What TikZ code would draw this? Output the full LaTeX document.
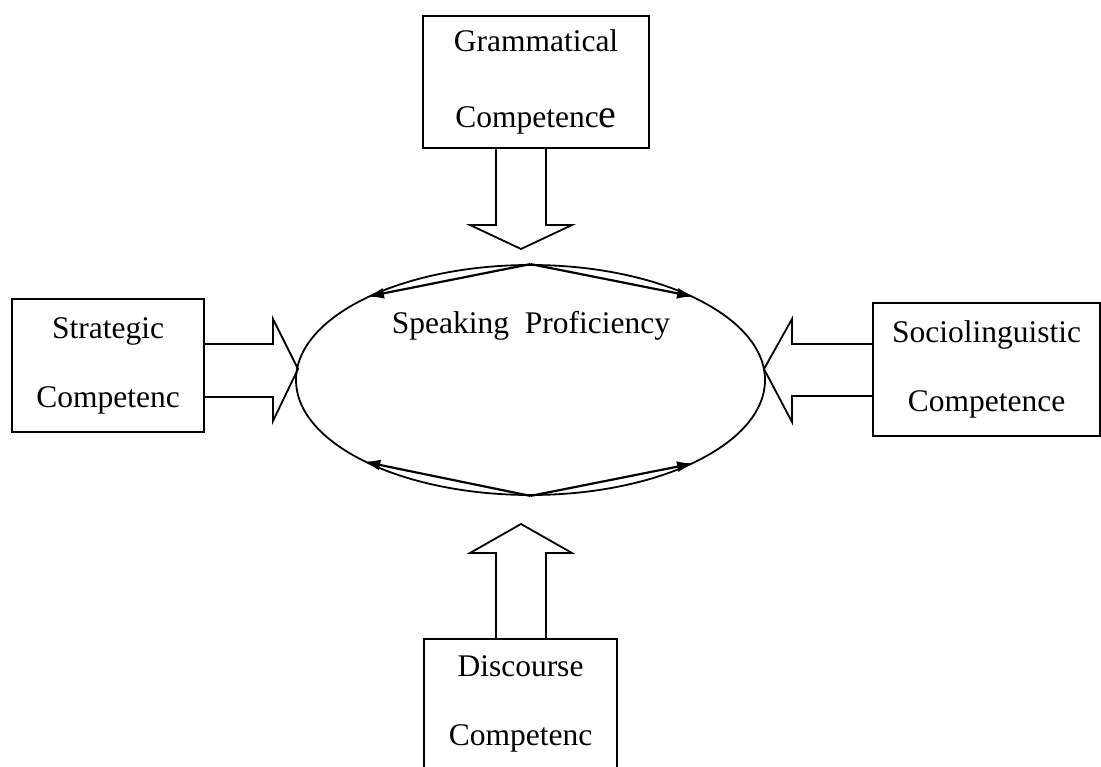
\documentclass[tikz,border=0pt]{standalone}
\usepackage{fontspec}
\setmainfont{Liberation Serif}
\usetikzlibrary{shapes.geometric,arrows.meta}
\begin{document}
\begin{tikzpicture}[x=1pt,y=-1pt,
  box/.style={draw,line width=1.8pt,inner sep=0pt,align=center,font=\fontsize{31.5}{69}\selectfont},
  blk/.style={draw,line width=1.8pt,line join=miter},
  chord/.style={line width=2.2pt,-{Latex[length=17pt,width=11pt]}}]
\useasboundingbox (0,0) rectangle (1101,767);
\clip (0,0) rectangle (1101,767);
% boxes
\node[box,minimum width=226pt,minimum height=132pt,font=\fontsize{31.5}{76}\selectfont] (gram) at (536,82) {Grammatical\\Competenc{\fontsize{40}{40}\selectfont e}};
\node[box,minimum width=192pt,minimum height=133pt] (strat) at (108,365.5) {Strategic\\Competenc};
\node[box,minimum width=227pt,minimum height=133pt] (socio) at (986.5,369.5) {Sociolinguistic\\Competence};
\node[box,minimum width=193pt,minimum height=129pt] (disc) at (520.5,703.5) {Discourse\\Competenc};
% ellipse
\node[draw,ellipse,line width=1.8pt,minimum width=469pt,minimum height=230pt,inner sep=0pt] (sp) at (530.5,380) {};
\node[font=\fontsize{31.5}{38}\selectfont] (spt) at (531,326) {Speaking\ \ Proficiency};
% block arrows
\draw[blk] (496,148) -- (496,225) -- (470,225) -- (521,249) -- (572,225) -- (546,225) -- (546,148);
\draw[blk] (204,344) -- (273,344) -- (273,319) -- (298,369) -- (273,421) -- (273,397) -- (204,397);
\draw[blk] (873,344) -- (792,344) -- (792,319) -- (764,369) -- (792,422) -- (792,396) -- (873,396);
\draw[blk] (496,639) -- (496,553) -- (470,553) -- (521,524) -- (572,553) -- (546,553) -- (546,639);
% chords
\draw[chord] (sp.north) -- (sp.153);
\draw[chord] (sp.north) -- (sp.27);
\draw[chord] (sp.south) -- (sp.206);
\draw[chord] (sp.south) -- (sp.333.5);
\end{tikzpicture}
\end{document}
